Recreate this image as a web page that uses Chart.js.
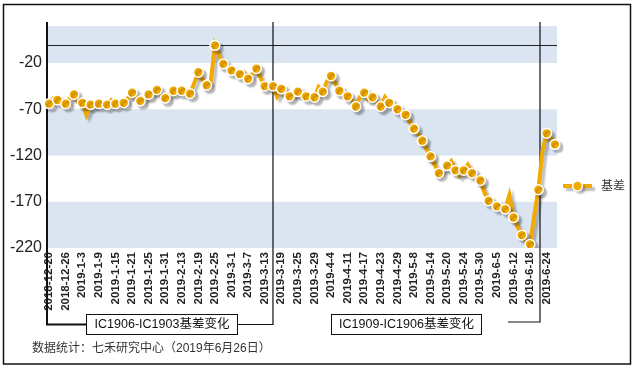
<!DOCTYPE html>
<html><head><meta charset="utf-8">
<script src="https://cdn.jsdelivr.net/npm/chart.js@4.4.1/dist/chart.umd.min.js"></script>
<style>html,body{margin:0;padding:0;background:#fff;overflow:hidden}canvas{display:block}</style>
</head><body>
<canvas id="c" width="636" height="370"></canvas>
<script>
const categories = [
'2018-12-20','2018-12-21','2018-12-24','2018-12-25','2018-12-26','2018-12-27','2018-12-28',
'2019-1-2','2019-1-3','2019-1-4','2019-1-7','2019-1-8','2019-1-9','2019-1-10','2019-1-11','2019-1-14','2019-1-15','2019-1-16','2019-1-17','2019-1-18','2019-1-21','2019-1-22','2019-1-23','2019-1-24','2019-1-25','2019-1-28','2019-1-29','2019-1-30','2019-1-31',
'2019-2-1','2019-2-11','2019-2-12','2019-2-13','2019-2-14','2019-2-15','2019-2-18','2019-2-19','2019-2-20','2019-2-21','2019-2-22','2019-2-25','2019-2-26','2019-2-27','2019-2-28',
'2019-3-1','2019-3-4','2019-3-5','2019-3-6','2019-3-7','2019-3-8','2019-3-11','2019-3-12','2019-3-13','2019-3-14','2019-3-15','2019-3-18','2019-3-19','2019-3-20','2019-3-21','2019-3-22','2019-3-25','2019-3-26','2019-3-27','2019-3-28','2019-3-29',
'2019-4-1','2019-4-2','2019-4-3','2019-4-4','2019-4-8','2019-4-9','2019-4-10','2019-4-11','2019-4-12','2019-4-15','2019-4-16','2019-4-17','2019-4-18','2019-4-19','2019-4-22','2019-4-23','2019-4-24','2019-4-25','2019-4-26','2019-4-29','2019-4-30',
'2019-5-6','2019-5-7','2019-5-8','2019-5-9','2019-5-10','2019-5-13','2019-5-14','2019-5-15','2019-5-16','2019-5-17','2019-5-20','2019-5-21','2019-5-22','2019-5-23','2019-5-24','2019-5-27','2019-5-28','2019-5-29','2019-5-30','2019-5-31',
'2019-6-3','2019-6-4','2019-6-5','2019-6-6','2019-6-10','2019-6-11','2019-6-12','2019-6-13','2019-6-14','2019-6-17','2019-6-18','2019-6-19','2019-6-20','2019-6-21','2019-6-24','2019-6-25','2019-6-26'
];
const basis = [
-64,-58,-60,-62,-64,-58,-54,-62,-63,-76,
-65,-66,-64,-64,-65,-60,-64,-63,-63,-58,
-52,-57,-61,-58,-54,-52,-49,-55,-58,-54,
-50,-50,-50,-52,-53,-42,-30,-38,-44,-40,
-1,-12,-21,-25,-28,-30,-32,-30,-37,-32,
-26,-36,-45,-45,-45,-56,-48,-52,-56,-54,
-51,-55,-56,-57,-57,-46,-51,-40,-34,-42,
-50,-53,-56,-60,-67,-56,-52,-60,-57,-62,
-67,-57,-63,-67,-70,-73,-76,-84,-91,-97,
-104,-113,-121,-130,-139,-135,-131,-126,-136,-142,
-136,-130,-139,-142,-147,-160,-169,-172,-175,-177,
-178,-163,-187,-197,-206,-212,-216,-185,-157,-115,
-96,-101,-108
];
const xTickLabels = ['2018-12-20','2018-12-26','2019-1-3','2019-1-9','2019-1-15','2019-1-21','2019-1-25','2019-1-31','2019-2-13','2019-2-19','2019-2-25','2019-3-1','2019-3-7','2019-3-13','2019-3-19','2019-3-25','2019-3-29','2019-4-4','2019-4-11','2019-4-17','2019-4-23','2019-4-29','2019-5-8','2019-5-14','2019-5-20','2019-5-24','2019-5-30','2019-6-5','2019-6-12','2019-6-18','2019-6-24'];
const yTicks = [-220,-170,-120,-70,-20];
const yMin = -220, yMax = 20;
const seriesName = '基差';
const noteLeft = 'IC1906-IC1903基差变化';
const noteRight = 'IC1909-IC1906基差变化';
const sourceNote = '数据统计：七禾研究中心（2019年6月26日）';
const switchAt = [54, 118.4];

const ORANGE = '#f2a900';
const LATIN = '"Liberation Sans", Arial, sans-serif';
const CJK = '"Liberation Sans", "Noto Sans CJK SC", sans-serif';

function setShadow(ctx){
  ctx.shadowColor = 'rgba(0,0,0,0.25)';
  ctx.shadowOffsetX = 3; ctx.shadowOffsetY = 3; ctx.shadowBlur = 2;
}

const decor = {
  id: 'decor',
  beforeDraw(chart){
    const {ctx, chartArea:a, scales:{y}} = chart;
    ctx.save();
    ctx.fillStyle = '#fff'; ctx.fillRect(0,0,chart.width,chart.height);
    ctx.fillStyle = '#dbe5f1';
    const edges = yTicks.concat([yMax]);
    for (let k = 0; k + 1 < edges.length; k += 2){
      const t = y.getPixelForValue(edges[k+1]), b = y.getPixelForValue(edges[k]);
      ctx.fillRect(a.left, t, a.right - a.left, b - t);
    }
    const z = Math.round(y.getPixelForValue(0)) + 0.5;
    ctx.strokeStyle = '#222'; ctx.lineWidth = 1;
    ctx.beginPath(); ctx.moveTo(a.left, z); ctx.lineTo(a.right, z); ctx.stroke();
    ctx.restore();
  },
  beforeDatasetsDraw(chart){
    const {ctx, chartArea:a, scales:{x}} = chart;
    const top = a.top - 4;
    const x1 = x.getPixelForValue(switchAt[0]);
    const x2 = x.getPixelForValue(switchAt[1]);
    ctx.save();
    ctx.strokeStyle = '#111';
    ctx.lineWidth = 2;
    ctx.beginPath(); ctx.moveTo(a.left, top); ctx.lineTo(a.left, 324.5); ctx.lineTo(86, 324.5); ctx.stroke();
    ctx.lineWidth = 1.2;
    ctx.beginPath(); ctx.moveTo(238, 324.5); ctx.lineTo(x1, 324.5); ctx.lineTo(x1, top); ctx.stroke();
    ctx.beginPath(); ctx.moveTo(508, 322); ctx.lineTo(x2, 322); ctx.lineTo(x2, top); ctx.stroke();
    ctx.lineWidth = 1;
    ctx.fillStyle = '#fff';
    ctx.fillRect(86, 314, 152, 20); ctx.strokeRect(86.5, 314.5, 151, 20);
    ctx.fillRect(331, 314, 151, 20); ctx.strokeRect(331.5, 314.5, 150, 20);
    ctx.fillStyle = '#111';
    ctx.font = '12.5px ' + CJK;
    ctx.textAlign = 'center'; ctx.textBaseline = 'middle';
    ctx.fillText(noteLeft, 162, 325);
    ctx.fillText(noteRight, 406.5, 325);
    ctx.restore();
    ctx.save(); setShadow(ctx);
  },
  afterDatasetsDraw(chart){
    const ctx = chart.ctx;
    ctx.restore();
    ctx.save();
    const ly = 186;
    setShadow(ctx);
    ctx.strokeStyle = ORANGE; ctx.lineWidth = 4;
    ctx.beginPath(); ctx.moveTo(563, ly); ctx.lineTo(592, ly); ctx.stroke();
    ctx.beginPath(); ctx.arc(577.5, ly, 4.9, 0, Math.PI*2);
    ctx.fillStyle = ORANGE; ctx.fill();
    ctx.shadowColor = 'transparent';
    ctx.strokeStyle = '#fff'; ctx.lineWidth = 1.5; ctx.stroke();
    ctx.fillStyle = '#333'; ctx.font = '12px ' + CJK;
    ctx.textAlign = 'left'; ctx.textBaseline = 'middle';
    ctx.fillText(seriesName, 601, ly + 1);
    ctx.fillStyle = '#333'; ctx.font = '12px ' + CJK;
    ctx.fillText(sourceNote, 32, 349);
    ctx.strokeStyle = '#111'; ctx.lineWidth = 1.5;
    ctx.strokeRect(3.5, 4.5, 627, 359.5);
    ctx.restore();
  }
};

new Chart(document.getElementById('c'), {
  type: 'line',
  data: {
    labels: categories,
    datasets: [{
      label: seriesName,
      data: basis,
      borderColor: ORANGE,
      borderWidth: 4,
      tension: 0,
      pointRadius: c => c.dataIndex % 2 === 0 ? 4.9 : 0,
      pointBackgroundColor: ORANGE,
      pointBorderColor: '#fff',
      pointBorderWidth: 1.5,
      fill: false
    }]
  },
  options: {
    responsive: false,
    animation: false,
    events: [],
    layout: { padding: { left: 0, right: 79, top: 26, bottom: 0 } },
    plugins: { legend: { display: false }, tooltip: { enabled: false } },
    scales: {
      x: {
        type: 'category',
        offset: true,
        grid: { display: false, drawTicks: false },
        border: { display: false },
        ticks: {
          autoSkip: false, minRotation: 90, maxRotation: 90, padding: 4,
          color: '#222', font: { family: LATIN, size: 11.5, weight: 'bold' },
          callback: (v, i) => xTickLabels.includes(categories[i]) ? categories[i] : ''
        },
        afterFit: s => { s.height = 122; }
      },
      y: {
        min: yMin, max: yMax,
        grid: { display: false, drawTicks: false },
        border: { display: false },
        afterBuildTicks: s => { s.ticks = yTicks.map(v => ({ value: v })); },
        ticks: { padding: 5, color: '#222', font: { family: LATIN, size: 16 } },
        afterFit: s => { s.width = 47; }
      }
    }
  },
  plugins: [decor]
});
</script>
</body></html>
